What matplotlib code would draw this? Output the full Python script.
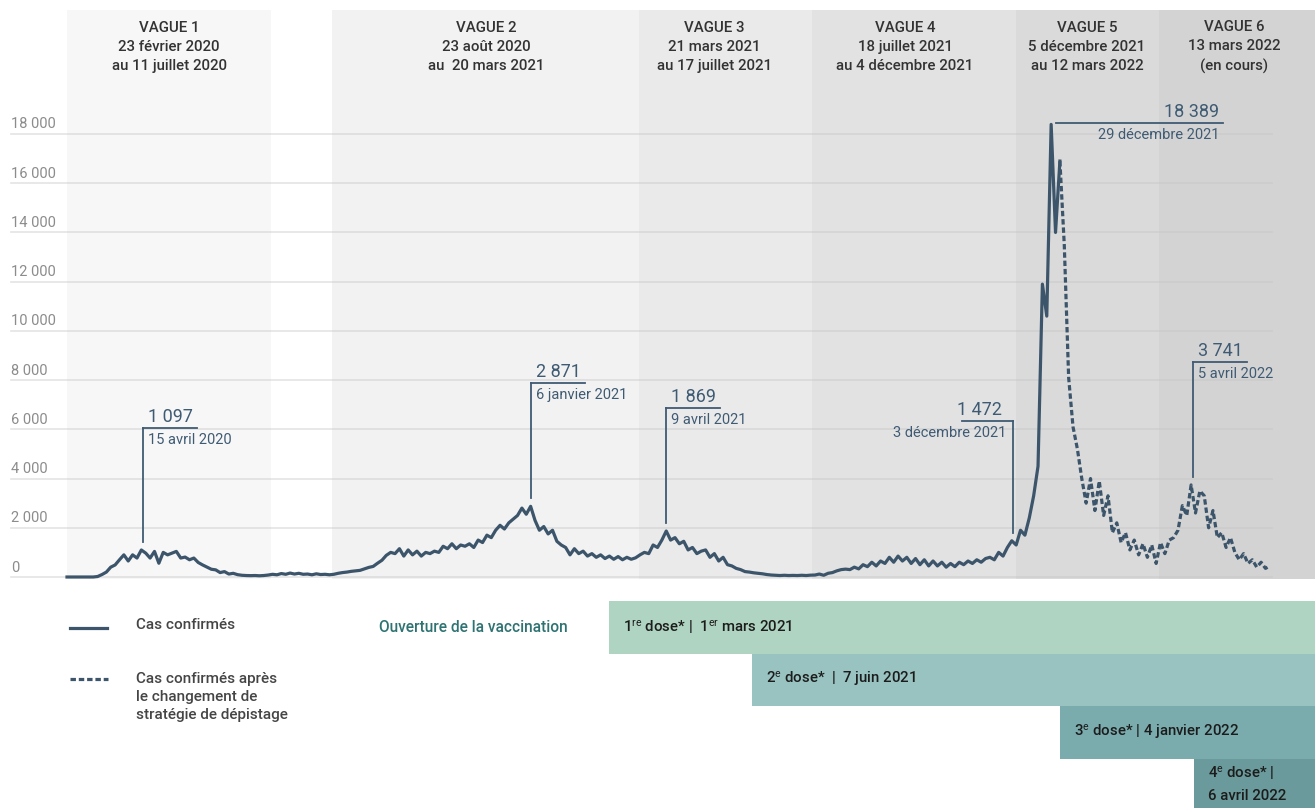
import matplotlib
matplotlib.use('Agg')
import matplotlib.pyplot as plt
import matplotlib.dates as mdates
from matplotlib.transforms import blended_transform_factory
from matplotlib.lines import Line2D
import pandas as pd

plt.rcParams['font.family'] = ['Roboto', 'DejaVu Sans']
plt.rcParams['mathtext.fontset'] = 'custom'
plt.rcParams['mathtext.rm'] = 'Roboto'
plt.rcParams['mathtext.it'] = 'Roboto'
plt.rcParams['mathtext.bf'] = 'Roboto:bold'

# daily confirmed cases, read every 3 days from 23 Feb 2020
start_solid = '2020-02-23'
cases_solid = [
    0, 0, 0, 0, 0, 0, 0, 20,
    100, 200, 400, 490, 700, 900, 650, 900, 770, 1097,
    970, 770, 1040, 560, 1000, 900, 970, 1040, 770, 810,
    700, 770, 590, 490, 400, 315, 290, 180, 220, 120,
    150, 95, 70, 60, 55, 60, 50, 60, 80, 110,
    90, 140, 110, 160, 120, 150, 110, 120, 90, 130,
    100, 110, 90, 110, 150, 180, 200, 230, 250, 270,
    330, 390, 430, 560, 680, 880, 1000,
    950, 1150, 850, 1100, 900, 1050, 850, 1000, 950, 1050,
    1000, 1250, 1150, 1350, 1150, 1300, 1250, 1350, 1200, 1500,
    1400, 1700, 1600, 1900, 2100, 1950, 2200, 2350, 2500, 2800,
    2550, 2871, 2300, 1900, 2050, 1750, 1900, 1450, 1300, 1200,
    900, 1150, 950, 1050, 850, 950, 800, 900, 750, 850,
    720, 830, 700, 800, 720, 780, 900, 1000, 950, 1300,
    1200, 1500, 1869, 1500, 1600, 1350, 1450, 1100, 1200, 950,
    1050, 1100, 800, 950, 650, 800, 500, 450, 350, 300,
    220, 200, 170, 150, 130, 100, 80, 70, 60, 70,
    60, 65, 60, 70, 60, 75, 80, 120, 70, 150,
    180, 250, 300, 320, 300, 400, 330, 500, 420, 600,
    450, 650, 550, 800, 600, 850, 650, 800, 550, 750,
    500, 700, 450, 650, 450, 600, 400, 550, 420, 600,
    500, 650, 550, 700, 600, 750, 800, 700, 1000, 850,
    1200, 1472, 1300, 1900, 1700, 2400,
    3300, 4500, 11900, 10600, 18389, 14000, 16900,
]

# after the change of screening strategy
start_dashed = '2022-01-04'
cases_dashed = [
    16900, 13500, 8100, 6100, 5200, 4000, 3000, 4000, 2700, 3900,
    2500, 3300, 1800, 2200, 1400, 1800, 1100, 1500, 900, 1350,
    800, 1300, 550, 1400, 950, 1500, 1600, 1900, 2900, 2500,
    3741, 2600, 3500, 3300, 2000, 2700, 1600, 1800, 1200, 1600,
    1000, 700, 950, 550, 700, 400, 600, 350, 450,
]

wave_starts = ['2020-02-23', '2020-08-23', '2021-03-21', '2021-07-18', '2021-12-05', '2022-03-13']
wave_ends = ['2020-07-12', '2021-03-21', '2021-07-18', '2021-12-05', '2022-03-13', None]
wave_titles = [
    'VAGUE 1\n23 février 2020\nau 11 juillet 2020',
    'VAGUE 2\n23 août 2020\nau  20 mars 2021',
    'VAGUE 3\n21 mars 2021\nau 17 juillet 2021',
    'VAGUE 4\n18 juillet 2021\nau 4 décembre 2021',
    'VAGUE 5\n5 décembre 2021\nau 12 mars 2022',
    'VAGUE 6\n13 mars 2022\n(en cours)',
]

peak_dates = ['2020-04-15', '2021-01-06', '2021-04-09', '2021-12-03', '2021-12-29', '2022-04-05']
peak_values = [1097, 2871, 1869, 1472, 18389, 3741]
peak_texts = ['1 097', '2 871', '1 869', '1 472', '18 389', '3 741']
peak_date_texts = ['15 avril 2020', '6 janvier 2021', '9 avril 2021', '3 décembre 2021',
                   '29 décembre 2021', '5 avril 2022']

dose_dates = ['2021-03-01', '2021-06-07', '2022-01-04', '2022-04-06']
dose_texts = [
    r'1$^{\mathrm{re}}$ dose* |  1$^{\mathrm{er}}$ mars 2021',
    r'2$^{\mathrm{e}}$ dose*  |  7 juin 2021',
    r'3$^{\mathrm{e}}$ dose* | 4 janvier 2022',
    '4$^{\\mathrm{e}}$ dose* |\n6 avril 2022',
]

yticks = list(range(0, 18001, 2000))

# ---- layout ----
W, H = 1315, 808
X0, PX_DAY = 67, 1.458          # pixel of 23 Feb 2020, pixels per day
Y0, VPX = 577, 18000 / 443      # pixel of 0 cases, cases per pixel
LINE = '#3c556b'
ANN = '#3f5b74'
band_colors = ['#f7f7f7', '#f2f2f2', '#eaeaea', '#e2e2e2', '#dadada', '#d3d3d3']
dose_colors = ['#b0d4c2', '#98c3c0', '#7aacae', '#6a9a9b']

fig = plt.figure(figsize=(W / 100, H / 100), dpi=100)
ax = fig.add_axes([0, 0, 1, 1])
ax.axis('off')
d0 = mdates.date2num(pd.Timestamp(start_solid))
ax.set_xlim(d0 - X0 / PX_DAY, d0 + (W - X0) / PX_DAY)
ax.set_ylim(-(H - Y0) * VPX, Y0 * VPX)
xax = blended_transform_factory(ax.transAxes, ax.transData)


def num(d):
    return mdates.date2num(pd.Timestamp(d))


def pt(px):
    return px * 72 / 100


# wave bands and titles
title_x = [169, 486, 714, 905, 1087, 1234]
for s, e, c, t, tx in zip(wave_starts, wave_ends, band_colors, wave_titles, title_x):
    x1 = num(e) if e else ax.get_xlim()[1]
    ax.axvspan(num(s), x1, ymin=(H - 579) / H, ymax=(H - 10) / H, color=c, lw=0, zorder=0)
    fig.text(tx / W, 1 - 47 / H, t, ha='center', va='center', fontsize=10.8,
             fontweight='medium', color='#333333', linespacing=1.45)

# grid and y labels
for v in yticks:
    ax.axhline(v, xmin=11 / W, xmax=1272 / W, color='#c4c4c4', alpha=0.45, lw=1.2, zorder=1)
    ax.text(11 / W, v + 9.5 * VPX, f'{v:,}'.replace(',', ' '), transform=xax,
            ha='left', va='center', fontsize=10.5, color='#8c8c8c')

# cases
xs = mdates.date2num(pd.date_range(start_solid, periods=len(cases_solid), freq='3D').to_pydatetime())
xd = mdates.date2num(pd.date_range(start_dashed, periods=len(cases_dashed), freq='3D').to_pydatetime())
ax.plot(xs, cases_solid, color=LINE, lw=2.3, solid_joinstyle='round', zorder=4)
ax.plot(xd, cases_dashed, color=LINE, lw=2.3, linestyle=(0, (1.7, 0.9)), zorder=4)

# peak annotations: (label level, line length in days, side)
levels = [6050, 7880, 6870, 6340, 18445, 8735]
lengths = [37, 37, 37, 35, 118, 37]
sides = ['r', 'r', 'r', 'l', 'top', 'r']
for d, v, t, dt, lv, ln, sd in zip(peak_dates, peak_values, peak_texts, peak_date_texts,
                                     levels, lengths, sides):
    x = num(d)
    kw = dict(textcoords='offset points', color=ANN)
    if sd == 'top':
        ax.plot([x + 3, x + ln], [lv, lv], color=ANN, lw=1.3, zorder=5)
        ax.annotate(t, (x + ln, lv), xytext=(pt(-4), pt(2)), ha='right', va='bottom', fontsize=13, **kw)
        ax.annotate(dt, (x + ln, lv), xytext=(pt(-4), pt(-5)), ha='right', va='top', fontsize=10.5, **kw)
        continue
    ax.plot([x, x], [v + 330, lv], color=ANN, lw=1.3, zorder=5)
    if sd == 'r':
        ax.plot([x, x + ln], [lv, lv], color=ANN, lw=1.3, zorder=5)
        ax.annotate(t, (x, lv), xytext=(pt(5), pt(2)), ha='left', va='bottom', fontsize=13, **kw)
        ax.annotate(dt, (x, lv), xytext=(pt(5), pt(-5)), ha='left', va='top', fontsize=10.5, **kw)
    else:
        ax.plot([x - ln, x], [lv, lv], color=ANN, lw=1.3, zorder=5)
        ax.annotate(t, (x, lv), xytext=(pt(-11), pt(2)), ha='right', va='bottom', fontsize=13, **kw)
        ax.annotate(dt, (x, lv), xytext=(pt(-7), pt(-5)), ha='right', va='top', fontsize=10.5, **kw)

# vaccination bars
bar_tops = [601, 654, 706, 759]
bar_bottoms = [654, 706, 759, 808]
right = ax.get_xlim()[1]
for d, t, c, top, bot in zip(dose_dates, dose_texts, dose_colors, bar_tops, bar_bottoms):
    x = num(d)
    ax.axvspan(x, right, ymin=(H - bot) / H, ymax=(H - top) / H, color=c, lw=0, zorder=1)
    ax.annotate(t, (x, 1 - (top + bot) / 2 / H), xycoords=('data', 'axes fraction'),
                xytext=(pt(14), 0), textcoords='offset points', ha='left', va='center',
                fontsize=10.8, fontweight='medium', color='#1c1c1c', linespacing=1.6)

fig.text(379 / W, 1 - 628 / H, 'Ouverture de la vaccination', ha='left', va='center',
         fontsize=11.2, fontweight='medium', color='#2e7272')

# legend
fig.add_artist(Line2D([70 / W, 107 / W], [1 - 628 / H] * 2, color=LINE, lw=2.3))
fig.add_artist(Line2D([70 / W, 108 / W], [1 - 679 / H] * 2, color=LINE, lw=2.3,
                      linestyle=(0, (1.7, 0.9))))
fig.text(136 / W, 1 - 625 / H, 'Cas confirmés', ha='left', va='center', fontsize=11,
         fontweight='medium', color='#454545')
fig.text(136 / W, 1 - 697 / H, 'Cas confirmés après\nle changement de\nstratégie de dépistage',
         ha='left', va='center', fontsize=11, fontweight='medium', color='#454545',
         linespacing=1.35)

fig.savefig('out.png', dpi=100, facecolor='white')
